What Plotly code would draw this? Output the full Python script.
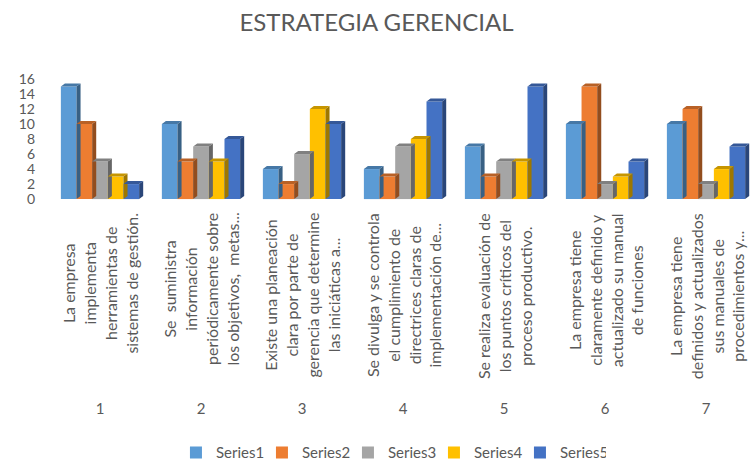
import plotly.graph_objects as go

categories = ["1", "2", "3", "4", "5", "6", "7"]
cat_labels = [
    "La empresa<br>implementa<br>herramientas de<br>sistemas de gestión.",
    "Se  suministra<br>información<br>periódicamente sobre<br>los objetivos,  metas...",
    "Existe una planeación<br>clara por parte de<br>gerencia que determine<br>las iniciáticas a...",
    "Se divulga y se controla<br>el cumplimiento de<br>directrices claras de<br>implementación de...",
    "Se realiza evaluación de<br>los puntos críticos del<br>proceso productivo.",
    "La empresa tiene<br>claramente definido y<br>actualizado su manual<br>de funciones",
    "La empresa tiene<br>definidos y actualizados<br>sus manuales de<br>procedimientos y...",
]
series_names = ["Series1", "Series2", "Series3", "Series4", "Series5"]
series1 = [15, 10, 4, 4, 7, 10, 10]
series2 = [10, 5, 2, 3, 3, 15, 12]
series3 = [5, 7, 6, 7, 5, 2, 2]
series4 = [3, 5, 12, 8, 5, 3, 4]
series5 = [2, 8, 10, 13, 15, 5, 7]
series = [series1, series2, series3, series4, series5]
colors = ["#5B9BD5", "#ED7D31", "#A5A5A5", "#FFC000", "#4472C4"]
y_ticks = [0, 2, 4, 6, 8, 10, 12, 14, 16]


def shade(hex_color, f):
    h = hex_color.lstrip("#")
    r, g, b = (int(h[i:i + 2], 16) for i in (0, 2, 4))
    return "rgb(%d,%d,%d)" % (int(r * f), int(g * f), int(b * f))


BAR_W = 0.155   # bar width in category units
DX = 0.04       # depth offset (x)
DY = 0.4        # depth offset (y)

fig = go.Figure()
xpos = list(range(1, len(categories) + 1))

for k, (name, vals, col) in enumerate(zip(series_names, series, colors)):
    xs = [x + (k - 2) * BAR_W for x in xpos]
    sx, sy, tx, ty = [], [], [], []
    for x, v in zip(xs, vals):
        r = x + BAR_W / 2
        l = x - BAR_W / 2
        sx += [r, r, r + DX, r + DX, r, None]
        sy += [0, v, v + DY, DY, 0, None]
        tx += [l, r, r + DX, l + DX, l, None]
        ty += [v, v, v + DY, v + DY, v, None]
    fig.add_trace(go.Bar(x=xs, y=vals, width=BAR_W, name=name,
                         marker=dict(color=col, line=dict(width=0)),
                         yaxis="y2", hoverinfo="name+y"))
    fig.add_trace(go.Scatter(x=sx, y=sy, fill="toself", mode="lines",
                             line=dict(width=0), fillcolor=shade(col, 0.62),
                             showlegend=False, hoverinfo="skip", yaxis="y2"))
    fig.add_trace(go.Scatter(x=tx, y=ty, fill="toself", mode="lines",
                             line=dict(width=0), fillcolor=shade(col, 0.78),
                             showlegend=False, hoverinfo="skip", yaxis="y2"))

for x, lab in zip(xpos, cat_labels):
    fig.add_annotation(x=x, y=-1.6, xref="x", yref="y2", text=lab,
                       textangle=-90, showarrow=False, yanchor="top",
                       xanchor="center", align="center",
                       font=dict(family="Lato", size=16, color="#595959"))

Y_LO, Y_HI = -26.5, 18.53
fig.update_layout(
    width=753, height=461,
    margin=dict(l=50, r=0, t=60, b=63),
    paper_bgcolor="white", plot_bgcolor="white",
    title=dict(text="ESTRATEGIA GERENCIAL", x=0.5, xanchor="center",
               y=0.95, yanchor="middle",
               font=dict(family="Lato", size=24, color="#595959")),
    barmode="overlay",
    xaxis=dict(range=[0.505, 7.465], tickvals=xpos, ticktext=categories,
               showgrid=False, zeroline=False, showline=False,
               tickfont=dict(family="Lato", size=15, color="#595959")),
    yaxis=dict(range=[Y_LO - 1.0, Y_HI - 1.0], tickvals=y_ticks,
               showgrid=True, gridcolor="#D9D9D9", gridwidth=1.5,
               showticklabels=False, zeroline=False, showline=False),
    yaxis2=dict(range=[Y_LO, Y_HI], tickvals=y_ticks, overlaying="y",
                side="left", showgrid=False, zeroline=False, showline=False,
                ticklabelstandoff=14,
                tickfont=dict(family="Lato", size=14, color="#595959")),
    legend=dict(orientation="h", x=0.485, xanchor="center",
                yref="container", y=0.018, yanchor="middle",
                font=dict(family="Lato", size=15, color="#595959"),
                itemwidth=30, entrywidth=41, entrywidthmode="pixels",
                tracegroupgap=0),
    showlegend=True,
)

fig.write_html("out.html")
